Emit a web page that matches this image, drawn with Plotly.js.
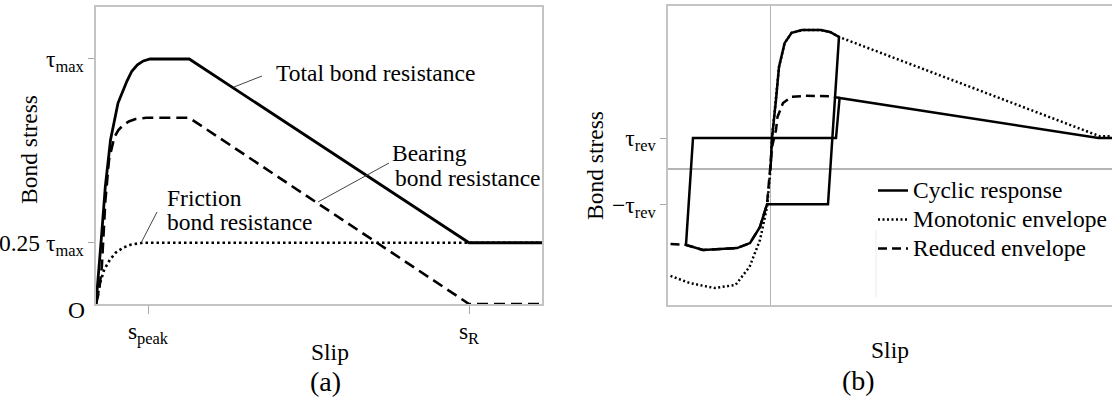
<!DOCTYPE html>
<html><head><meta charset="utf-8">
<script src="https://cdn.plot.ly/plotly-3.0.1.min.js"></script>
<style>html,body{margin:0;padding:0;background:#fff}#chart{width:1112px;height:400px}</style>
</head><body><div id="chart"></div>
<script>
// ---------- Panel (a): slip (s_R = 10) vs bond stress (tau_max = 1) ----------
const aTotalSlip     = [0, 0.08, 0.155, 0.25, 0.39, 0.59, 0.72, 0.83, 0.96, 1.11, 1.27, 1.45, 2.5, 10, 11.96];
const aTotalStress   = [0, 0.14, 0.29, 0.48, 0.67, 0.82, 0.87, 0.91, 0.95, 0.976, 0.992, 1.0, 1.0, 0.25, 0.25];
const aBearingSlip   = [0, 0.08, 0.155, 0.25, 0.35, 0.49, 0.6, 0.73, 0.88, 1.06, 1.35, 2.5, 10, 11.96];
const aBearingStress = [0, 0.05, 0.15, 0.42, 0.59, 0.68, 0.71, 0.73, 0.745, 0.755, 0.76, 0.76, 0, 0];
const aFrictionSlip  = [0, 0.11, 0.22, 0.37, 0.53, 0.73, 0.95, 1.26, 10, 11.96];
const aFrictionStress= [0, 0.086, 0.14, 0.18, 0.21, 0.23, 0.243, 0.25, 0.25, 0.25];
const aXTickVals = [1.394, 10];
const aXTickText = ['s<sub>peak</sub>', 's<sub>R</sub>'];
const aYTickVals = [0.25, 1];
const aYTickText = ['0.25 τ<sub>max</sub>', 'τ<sub>max</sub>'];

// ---------- Panel (b): cyclic response ----------
const bCyclicSlip   = [0, 0.15, 0.55, 0.85, 1.41, 2.11, 3.15, 5.05, 5.95, 6.85, 5.75, -0.35, -1.05, -2.05, -3.35, -6.75, -8.45, -7.75, 6.55, 6.91, 32.8, 38];
const bCyclicStress = [0, 1.0, 2.23, 3.29, 4.06, 4.39, 4.48, 4.48, 4.42, 4.26, -1.14, -1.14, -1.87, -2.39, -2.55, -2.61, -2.45, 1.0, 1.0, 2.29, 1.0, 1.0];
const bMonoSlip     = [-10.0, -8.05, -5.6, -3.5, -2.1, -1.05, -0.35, 0, 0.15, 0.55, 0.85, 1.41, 2.11, 3.15, 5.05, 5.95, 6.85, 32.9, 38];
const bMonoStress   = [-3.45, -3.68, -3.84, -3.74, -3.16, -2.29, -1.23, 0, 1.0, 2.23, 3.29, 4.06, 4.39, 4.48, 4.48, 4.42, 4.26, 1.06, 1.06];
const bRedSlip      = [-10.0, -8.45, -6.75, -3.35, -2.05, -1.05, -0.35, 0, 0.15, 0.55, 0.7, 1.25, 2.11, 3.51, 5.95, 6.91];
const bRedStress    = [-2.42, -2.45, -2.61, -2.55, -2.39, -1.87, -1.14, 0, 0.71, 1.26, 1.68, 2.13, 2.33, 2.36, 2.35, 2.29];
const bYTickVals = [1.0, -1.14];
const bYTickText = ['τ<sub>rev</sub>', '−τ<sub>rev</sub>'];
const bSeriesNames = ['Cyclic response', 'Monotonic envelope', 'Reduced envelope'];

const W = 1112, H = 400;
const px = x => x / W, py = y => 1 - y / H;
const FONT = 'Liberation Serif';
const FS = 23.5;
const FRAME = '#c4c4c4';
const big = s => '<span style="font-size:' + FS + 'px">' + s + '</span>';

const traces = [
  {x: aFrictionSlip, y: aFrictionStress, xaxis: 'x', yaxis: 'y', mode: 'lines', showlegend: false,
   line: {color: '#000', width: 2.6, dash: '2.5px,3px'}},
  {x: aBearingSlip, y: aBearingStress, xaxis: 'x', yaxis: 'y', mode: 'lines', showlegend: false,
   line: {color: '#000', width: 2.6, dash: '11px,6px'}},
  {x: aTotalSlip, y: aTotalStress, xaxis: 'x', yaxis: 'y', mode: 'lines', showlegend: false,
   line: {color: '#000', width: 2.8}},
  {x: bCyclicSlip, y: bCyclicStress, xaxis: 'x2', yaxis: 'y2', mode: 'lines', name: big(bSeriesNames[0]),
   line: {color: '#000', width: 2.5}},
  {x: bMonoSlip, y: bMonoStress, xaxis: 'x2', yaxis: 'y2', mode: 'lines', name: big(bSeriesNames[1]),
   line: {color: '#000', width: 2.5, dash: '2px,2.5px'}},
  {x: bRedSlip, y: bRedStress, xaxis: 'x2', yaxis: 'y2', mode: 'lines', name: big(bSeriesNames[2]),
   line: {color: '#000', width: 2.5, dash: '9px,5px'}}
];

const axBase = {showgrid: false, fixedrange: true, showline: true, linecolor: FRAME, linewidth: 1.6,
  tickcolor: '#a8a8a8', tickwidth: 1, tickfont: {family: FONT, size: FS, color: '#000'}};

const ann = (x, y, text, extra) => Object.assign({xref: 'paper', yref: 'paper', x: px(x), y: py(y),
  xanchor: 'center', yanchor: 'middle', text: text, showarrow: false,
  font: {family: FONT, size: FS, color: '#000'}}, extra || {});

const layout = {
  width: W, height: H, margin: {l: 0, r: 0, t: 0, b: 0},
  paper_bgcolor: '#fff', plot_bgcolor: '#fff',
  font: {family: FONT, size: FS, color: '#000'},
  showlegend: true,
  legend: {x: px(873), y: py(171), xanchor: 'left', yanchor: 'top', bgcolor: 'rgba(0,0,0,0)',
    borderwidth: 0, itemwidth: 30, tracegroupgap: 0, font: {family: FONT, size: 20, color: '#000'}},
  xaxis: Object.assign({}, axBase, {domain: [px(96), px(542)], range: [0, 11.957], zeroline: false, mirror: true,
    ticks: 'outside', ticklen: 8, tickvals: aXTickVals, ticktext: aXTickText, ticklabelstandoff: -3}),
  yaxis: Object.assign({}, axBase, {domain: [py(304), py(7)], range: [0, 1.2122], zeroline: false, mirror: true,
    ticks: 'outside', ticklen: 6, tickvals: aYTickVals, ticktext: aYTickText}),
  xaxis2: Object.assign({}, axBase, {anchor: 'y2', domain: [px(668), 1], range: [-10.25, 34.15], mirror: true,
    zeroline: true, zerolinecolor: '#b4b4b4', zerolinewidth: 1.5, ticks: '', showticklabels: false,
    title: {text: 'Slip', standoff: 36, font: {family: FONT, size: FS, color: '#000'}}}),
  yaxis2: Object.assign({}, axBase, {anchor: 'x2', domain: [py(305), py(6)], range: [-4.387, 5.258], mirror: false,
    zeroline: true, zerolinecolor: '#b4b4b4', zerolinewidth: 1.5, ticks: 'outside', ticklen: 6,
    tickvals: bYTickVals, ticktext: bYTickText}),
  annotations: [
    ann(29, 150, 'Bond stress', {textangle: -90}),
    ann(595, 166, 'Bond stress', {textangle: -90}),
    ann(330, 352, 'Slip'),
    ann(76, 310, 'O'),
    ann(274, 73, 'Total bond resistance', {xanchor: 'left'}),
    ann(390, 153, 'Bearing', {xanchor: 'left'}),
    ann(393, 178, 'bond resistance', {xanchor: 'left'}),
    ann(165, 198, 'Friction', {xanchor: 'left'}),
    ann(165, 222, 'bond resistance', {xanchor: 'left'}),
    ann(325, 381, '(a)', {font: {family: FONT, size: 28, color: '#000'}}),
    ann(858, 380, '(b)', {font: {family: FONT, size: 28, color: '#000'}})
  ],
  shapes: [
    {type: 'line', xref: 'paper', yref: 'paper', x0: px(262), y0: py(76), x1: px(234), y1: py(87), line: {color: '#444', width: 1}},
    {type: 'line', xref: 'paper', yref: 'paper', x0: px(389), y0: py(163), x1: px(318), y1: py(202), line: {color: '#444', width: 1}},
    {type: 'line', xref: 'paper', yref: 'paper', x0: px(157), y0: py(212), x1: px(141), y1: py(243), line: {color: '#444', width: 1}},
    {type: 'line', xref: 'paper', yref: 'paper', x0: px(876), y0: py(230), x1: px(876), y1: py(297), line: {color: '#ececec', width: 1}}
  ]
};

Plotly.newPlot('chart', traces, layout, {staticPlot: true, displayModeBar: false});
</script>
</body></html>
